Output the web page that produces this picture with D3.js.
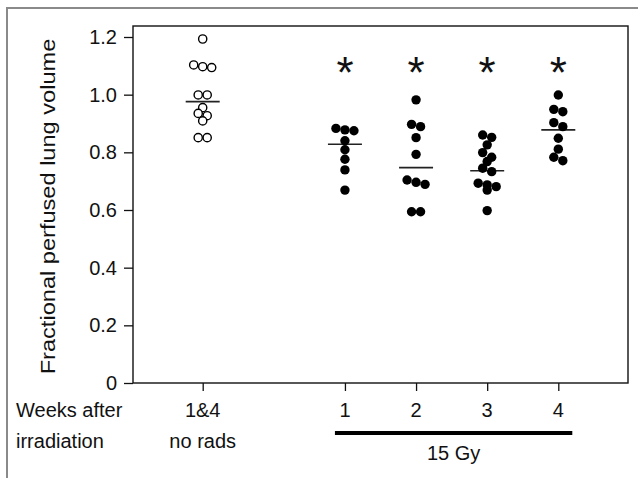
<!DOCTYPE html>
<html>
<head>
<meta charset="utf-8">
<script src="https://cdn.jsdelivr.net/npm/d3@7"></script>
<style>
  body { margin: 0; background: #fff; }
  svg text { font-family: "Liberation Sans", Arial, sans-serif; fill: #111; }
</style>
</head>
<body>
<div id="chart"></div>
<script>
var width = 638;
var height = 478;

// Group keys (the empty key is the gap between control and irradiated groups)
var groupKeys = ["1&4", "", "1", "2", "3", "4"];
var tickLine1 = ["1&4", "1", "2", "3", "4"];
var tickLine2 = ["no rads", "", "", "", ""];

// Values, one array per group
var noRads = [1.193, 1.103, 1.097, 1.094, 0.999, 0.999, 0.955, 0.935, 0.927, 0.909, 0.851, 0.851];
var week1 = [0.883, 0.878, 0.875, 0.840, 0.809, 0.776, 0.739, 0.669];
var week2 = [0.982, 0.897, 0.889, 0.851, 0.793, 0.704, 0.696, 0.689, 0.594, 0.594];
var week3 = [0.860, 0.852, 0.826, 0.799, 0.783, 0.768, 0.745, 0.733, 0.693, 0.687, 0.681, 0.669, 0.598];
var week4 = [0.999, 0.949, 0.941, 0.903, 0.889, 0.849, 0.811, 0.783, 0.771];

// Median lines as drawn
var medians = [0.976, 0.828, 0.747, 0.736, 0.878];
var significant = [false, true, true, true, true];
var yTicks = [0, 0.2, 0.4, 0.6, 0.8, 1.0, 1.2];

var groups = [
  {key: "1&4", values: noRads, open: true},
  {key: "1", values: week1, open: false},
  {key: "2", values: week2, open: false},
  {key: "3", values: week3, open: false},
  {key: "4", values: week4, open: false}
];

var plot = {left: 133, right: 628, top: 26, bottom: 383};

var svg = d3.select("#chart").append("svg")
    .attr("width", width)
    .attr("height", height);

// Outer figure frame (top and left edges only)
svg.append("path")
  .attr("d", "M7,478V8H638")
  .attr("fill", "none")
  .attr("stroke", "#8a8a8a")
  .attr("stroke-width", 2);

var y = d3.scaleLinear().domain([0, 1.2]).range([plot.bottom, 37]);
var x = d3.scalePoint().domain(groupKeys).range([plot.left, plot.right]).padding(0.98);

// Plot box
svg.append("rect")
  .attr("x", plot.left)
  .attr("y", plot.top)
  .attr("width", plot.right - plot.left)
  .attr("height", plot.bottom - plot.top)
  .attr("fill", "none")
  .attr("stroke", "#111")
  .attr("stroke-width", 1.4);

// Y axis
var yAxis = svg.append("g")
  .attr("transform", "translate(" + plot.left + ",0)")
  .call(d3.axisLeft(y).tickValues(yTicks).tickSize(9).tickPadding(7)
    .tickFormat(d => d === 0 ? "0" : d3.format(".1f")(d)));
yAxis.select(".domain").remove();
yAxis.selectAll("line").attr("stroke", "#111").attr("stroke-width", 1.3);
yAxis.selectAll("text").attr("font-size", 20).attr("font-family", "Liberation Sans, Arial, sans-serif").attr("fill", "#111");

// X ticks
var xAxis = svg.append("g")
  .attr("transform", "translate(0," + plot.bottom + ")")
  .call(d3.axisBottom(x).tickValues(tickLine1).tickSize(8).tickFormat(""));
xAxis.select(".domain").remove();
xAxis.selectAll("line").attr("stroke", "#111").attr("stroke-width", 1.3);

// Y axis title (the source figure is stretched vertically, so the text is longer)
svg.append("text")
  .attr("transform", "translate(55," + ((plot.top + plot.bottom) / 2 + 2) + ") rotate(-90) scale(1.18,1)")
  .attr("text-anchor", "middle")
  .attr("font-size", 20)
  .text("Fractional perfused lung volume");

// Row-binned dot layout (points close in value share a row, centred)
var rowGap = 5;      // px: values closer than this share a row
var dotStep = 9;     // px between dots in a row
function layout(values) {
  var sorted = values.map(v => ({v: v})).sort((a, b) => b.v - a.v);
  var rows = [];
  sorted.forEach(function(p) {
    var row = rows[rows.length - 1];
    if (row && Math.abs(y(row[0].v) - y(p.v)) < rowGap) row.push(p);
    else rows.push([p]);
  });
  rows.forEach(function(row) {
    row.forEach(function(p, i) { p.dx = (i - (row.length - 1) / 2) * dotStep; });
  });
  return sorted;
}

groups.forEach(function(g, gi) {
  var cx = x(g.key);
  var pts = layout(g.values);

  // median line
  svg.append("line")
    .attr("x1", cx - 17).attr("x2", cx + 17)
    .attr("y1", y(medians[gi])).attr("y2", y(medians[gi]))
    .attr("stroke", "#222")
    .attr("stroke-width", 1.6);

  svg.selectAll("circle.g" + gi)
    .data(pts)
    .enter()
    .append("circle")
      .attr("class", "g" + gi)
      .attr("cx", d => cx + d.dx)
      .attr("cy", d => y(d.v))
      .attr("r", g.open ? 4.1 : 4.7)
      .attr("fill", g.open ? "#fff" : "#000")
      .attr("stroke", "#000")
      .attr("stroke-width", g.open ? 1.4 : 0);

  if (significant[gi]) {
    svg.append("text")
      .attr("x", cx)
      .attr("y", 88)
      .attr("text-anchor", "middle")
      .attr("font-size", 44)
      .text("*");
  }

  // tick labels
  svg.append("text")
    .attr("x", cx).attr("y", 417)
    .attr("text-anchor", "middle")
    .attr("font-size", 20)
    .text(tickLine1[gi]);
  if (tickLine2[gi]) {
    svg.append("text")
      .attr("x", cx).attr("y", 448)
      .attr("text-anchor", "middle")
      .attr("font-size", 20)
      .text(tickLine2[gi]);
  }
});

// Row titles
svg.append("text").attr("x", 16).attr("y", 417).attr("font-size", 20).text("Weeks after");
svg.append("text").attr("x", 16).attr("y", 448).attr("font-size", 20).text("irradiation");

// Dose bar under the irradiated groups
var barX1 = x("1") - 10, barX2 = x("4") + 14;
svg.append("line")
  .attr("x1", barX1).attr("x2", barX2)
  .attr("y1", 433).attr("y2", 433)
  .attr("stroke", "#000")
  .attr("stroke-width", 4);
svg.append("text")
  .attr("x", (barX1 + barX2) / 2).attr("y", 460)
  .attr("text-anchor", "middle")
  .attr("font-size", 20)
  .text("15 Gy");
</script>
</body>
</html>
